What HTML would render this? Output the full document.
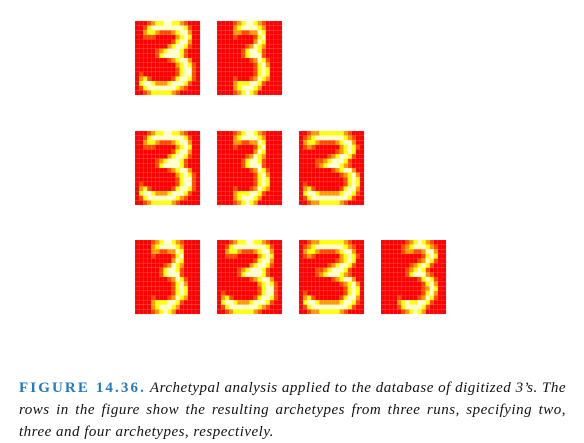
<!DOCTYPE html>
<html><head><meta charset="utf-8"><style>
body{margin:0;background:#fff;width:584px;height:442px;overflow:hidden;position:relative}
#cap{position:absolute;left:19px;top:377px;width:547px;font-family:"Liberation Serif",serif;font-size:15px;letter-spacing:0.5px;line-height:22px;font-style:italic;color:#111}
#cap div{white-space:nowrap}
#cap .j{text-align:justify;text-align-last:justify}
#cap b{font-style:normal;color:#1f7ac0;letter-spacing:2.1px}
</style></head><body>
<svg id="fig" width="584" height="370" style="position:absolute;left:0;top:0"></svg>
<div id="cap">
<div class="j"><b>FIGURE 14.36.</b> Archetypal analysis applied to the database of digitized 3’s. The</div>
<div class="j">rows in the figure show the resulting archetypes from three runs, specifying two,</div>
<div>three and four archetypes, respectively.</div>
</div>
<script>
const wide=["0001233443321000","0013444444443100","0023321112344200","0011100000234300","0000000001344200","0000000023443100","0000012344431000","0000013444431000","0000000012344200","0000000000234310","0000000000134410","0100000000134410","0231000001344310","0344322234443100","0134444444321000","0012333332100000"];
const narrow=["0000123443210000","0000234444320000","0000221122430000","0000100001340000","0000000002430000","0000000124320000","0000001344310000","0000001344410000","0000000012431000","0000000001342000","0000000001343000","0000000001343000","0000100012432000","0000233344310000","0000234443200000","0000123432000000"];
const broad=["0012233333321000","0123444444432100","0233211112344200","0121000000234310","0000000001234300","0000000123443100","0000112344431000","0000123444321000","0000000012344200","0000000000123420","0000000000013430","0100000000013430","0231000000134420","0344322222344310","0134444444443100","0012233333210000"];
const slim=["0000001234321000","0000012344432100","0000012211244200","0000000000134300","0000000001243100","0000000123431000","0000001234310000","0000001344421000","0000000001343100","0000000000134200","0000000000124300","0000000000134200","0000100001243100","0000234334431000","0000134444310000","0000012343200000"];
const rows=[[wide,narrow],[wide,narrow,broad],[narrow,wide,broad,slim]];
const rowTops=[21,131,240];
const colLefts=[135,217,299,381];
const palette=["#ff0000","#ff4a00","#ff9a00","#ffff10","#ffffd0"];
const imgW=65,imgH=74,n=16;
const svg=document.getElementById('fig');
const NS="http://www.w3.org/2000/svg";
rows.forEach((row,ri)=>{row.forEach((m,ci)=>{
  const g=document.createElementNS(NS,'g');
  
  
  const x0=colLefts[ci],y0=rowTops[ri],cw=imgW/n,ch=imgH/n;
  m.forEach((s,r)=>{for(let c=0;c<n;c++){
    const rc=document.createElementNS(NS,'rect');
    
    
    rc.setAttribute('x',x0+c*cw);rc.setAttribute('y',y0+r*ch);
    rc.setAttribute('width',cw+0.05);rc.setAttribute('height',ch+0.05);
    rc.setAttribute('fill',palette[+s[c]]);
    rc.setAttribute('stroke','rgba(255,255,255,0.18)');rc.setAttribute('stroke-width','0.4');
    g.appendChild(rc);}});
  svg.appendChild(g);
});});
</script>
</body></html>
